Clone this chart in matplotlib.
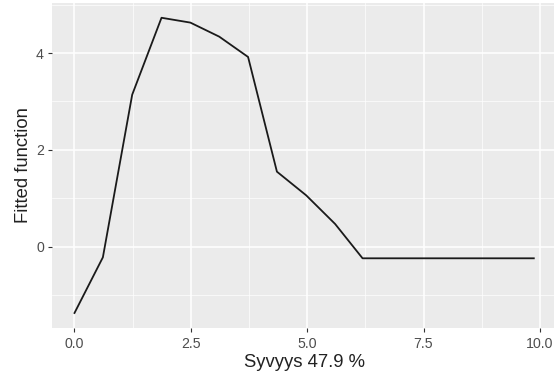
import matplotlib
matplotlib.use("Agg")
import matplotlib.pyplot as plt
from matplotlib.ticker import MultipleLocator

depth = [0.0, 0.61, 1.24, 1.87, 2.49, 3.11, 3.73, 4.35, 4.98, 5.60, 6.19, 9.87]
fitted = [-1.37, -0.22, 3.14, 4.73, 4.63, 4.34, 3.92, 1.55, 1.06, 0.47, -0.24, -0.24]
xticks = [0.0, 2.5, 5.0, 7.5, 10.0]
xticklabels = ["0.0", "2.5", "5.0", "7.5", "10.0"]
yticks = [0, 2, 4]
yticklabels = ["0", "2", "4"]
xlabel = "Syvyys 47.9 %"
ylabel = "Fitted function"

plt.rcParams['font.family'] = ['Liberation Sans', 'DejaVu Sans']

fig = plt.figure(figsize=(5.54, 3.75), dpi=100)
ax = fig.add_axes([0.093, 0.126, 0.912, 0.866])
ax.set_facecolor("#EBEBEB")
for s in ax.spines.values():
    s.set_visible(False)

ax.plot(depth, fitted, color="#1a1a1a", lw=1.3, zorder=3)

xr = max(depth) - min(depth)
yr = max(fitted) - min(fitted)
ax.set_xlim(min(depth) - 0.05 * xr, max(depth) + 0.05 * xr)
ax.set_ylim(min(fitted) - 0.05 * yr, max(fitted) + 0.05 * yr)

ax.set_xticks(xticks)
ax.set_xticklabels(xticklabels)
ax.set_yticks(yticks)
ax.set_yticklabels(yticklabels)
ax.xaxis.set_minor_locator(MultipleLocator(1.25))
ax.yaxis.set_minor_locator(MultipleLocator(1.0))
ax.grid(which="major", color="white", lw=1.1, zorder=0)
ax.grid(which="minor", color="white", lw=0.5, zorder=0)
ax.set_axisbelow(True)
ax.tick_params(which="major", length=3, width=0.8, color="#333333",
               labelcolor="#4D4D4D", labelsize=10.2, pad=2.5)
ax.tick_params(axis="x", which="major", pad=3.5)
ax.tick_params(which="minor", length=0)

ax.set_xlabel(xlabel, fontsize=13.3, color="#222222", labelpad=2.5)
ax.set_ylabel(ylabel, fontsize=13.3, color="#222222", labelpad=3)

fig.savefig("out.png", dpi=100)
